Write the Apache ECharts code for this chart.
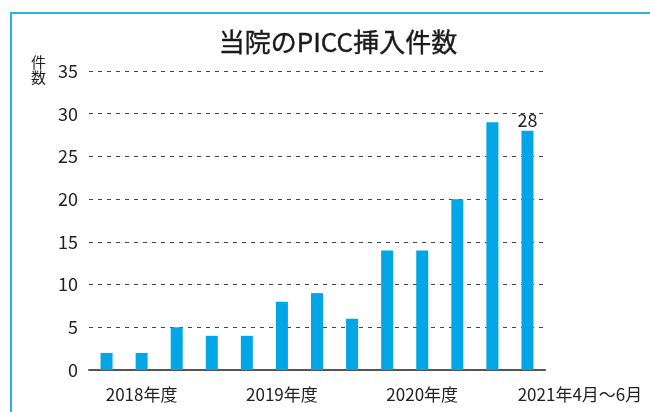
<!DOCTYPE html>
<html>
<head>
<meta charset="utf-8">
<script src="https://cdn.jsdelivr.net/npm/echarts@6/dist/echarts.min.js"></script>
<style>
  html, body { margin: 0; padding: 0; background: #fff; }
  #frame { position: absolute; left: 10px; top: 12px; width: 640px; height: 400px;
           border-left: 2px solid #29b4e6; border-top: 2px solid #29b4e6; box-sizing: border-box; }
  #chart { position: absolute; left: 0; top: 0; width: 650px; height: 412px; }
</style>
</head>
<body>
<div id="frame"></div>
<div id="chart"></div>
<script>
// 期間ラベル（空欄は目盛のみ）
var periods = ['', '2018年度', '', '', '', '2019年度', '', '', '', '2020年度', '', '', '2021年4月～6月'];
// PICC挿入件数
var counts = [2, 2, 5, 4, 4, 8, 9, 6, 14, 14, 20, 29, 28];
var yTicks = [0, 5, 10, 15, 20, 25, 30, 35];

var chart = echarts.init(document.getElementById('chart'));
var fontFamily = '"Noto Sans CJK JP", "Noto Sans", sans-serif';

var option = {
  animation: false,
  textStyle: { fontFamily: fontFamily },
  title: [
    {
      text: '当院のPICC挿入件数',
      left: 333,
      top: 24,
      textAlign: 'center',
      textStyle: { fontSize: 26, fontWeight: 'normal', color: '#1a1a1a', fontFamily: fontFamily,
                   textBorderColor: '#1a1a1a', textBorderWidth: 0.4 }
    },
    {
      text: '件\n数',
      left: 26,
      top: 50,
      textStyle: { fontSize: 15, fontWeight: 'normal', color: '#222', lineHeight: 15, fontFamily: fontFamily }
    }
  ],
  grid: { left: 89, right: 105, top: 71, bottom: 42, containLabel: false },
  xAxis: {
    type: 'category',
    data: periods,
    boundaryGap: true,
    axisTick: { show: false },
    axisLine: { lineStyle: { color: '#555', width: 2 } },
    axisLabel: {
      interval: 0,
      margin: 16,
      color: '#222',
      fontSize: 17,
      formatter: function (v, i) {
        return i === periods.length - 1 ? '{last|' + v + '}' : v;
      },
      rich: { last: { fontSize: 17, color: '#222', padding: [0, 0, 0, 105] } }
    }
  },
  yAxis: {
    type: 'value',
    min: yTicks[0],
    max: yTicks[yTicks.length - 1],
    interval: 5,
    axisLine: { show: false },
    axisTick: { show: false },
    axisLabel: { color: '#222', fontSize: 18, margin: 11 },
    splitLine: { lineStyle: { color: '#444', type: [4, 5], width: 1 } }
  },
  series: [
    {
      type: 'bar',
      data: counts.map(function (v, i) {
        return i === counts.length - 1
          ? { value: v, label: { show: true, position: 'top', color: '#222', fontSize: 18, distance: 2 } }
          : v;
      }),
      barWidth: 12,
      itemStyle: { color: '#00a6e6' }
    }
  ]
};
chart.setOption(option);
</script>
</body>
</html>
